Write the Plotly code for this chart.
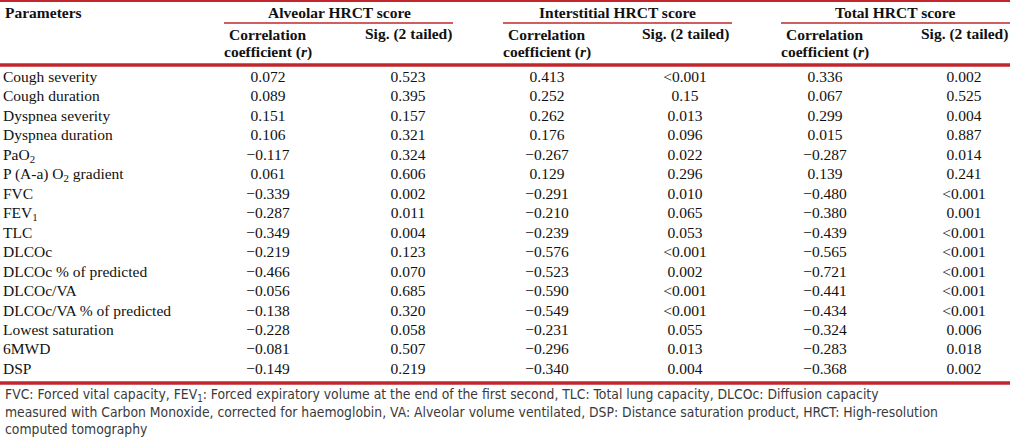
import plotly.graph_objects as go

# ---- data ----
parameters = ["Cough severity", "Cough duration", "Dyspnea severity", "Dyspnea duration",
              "PaO<sub>2</sub>", "P (A-a) O<sub>2</sub> gradient", "FVC", "FEV<sub>1</sub>", "TLC",
              "DLCOc", "DLCOc % of predicted", "DLCOc/VA", "DLCOc/VA % of predicted",
              "Lowest saturation", "6MWD", "DSP"]
alveolar_r = ["0.072", "0.089", "0.151", "0.106", "−0.117", "0.061", "−0.339", "−0.287", "−0.349",
              "−0.219", "−0.466", "−0.056", "−0.138", "−0.228", "−0.081", "−0.149"]
alveolar_sig = ["0.523", "0.395", "0.157", "0.321", "0.324", "0.606", "0.002", "0.011", "0.004",
                "0.123", "0.070", "0.685", "0.320", "0.058", "0.507", "0.219"]
interstitial_r = ["0.413", "0.252", "0.262", "0.176", "−0.267", "0.129", "−0.291", "−0.210", "−0.239",
                  "−0.576", "−0.523", "−0.590", "−0.549", "−0.231", "−0.296", "−0.340"]
interstitial_sig = ["<0.001", "0.15", "0.013", "0.096", "0.022", "0.296", "0.010", "0.065", "0.053",
                    "<0.001", "0.002", "<0.001", "<0.001", "0.055", "0.013", "0.004"]
total_r = ["0.336", "0.067", "0.299", "0.015", "−0.287", "0.139", "−0.480", "−0.380", "−0.439",
           "−0.565", "−0.721", "−0.441", "−0.434", "−0.324", "−0.283", "−0.368"]
total_sig = ["0.002", "0.525", "0.004", "0.887", "0.014", "0.241", "<0.001", "0.001", "<0.001",
             "<0.001", "<0.001", "<0.001", "<0.001", "0.006", "0.018", "0.002"]
group_titles = ["Alveolar HRCT score", "Interstitial HRCT score", "Total HRCT score"]
sub_titles_line1 = ["Correlation", "Sig. (2 tailed)"]
sub_titles_line2 = ["coefficient (<i>r</i>)", ""]
first_header = "Parameters"
footnote_lines = [
    "FVC: Forced vital capacity, FEV<sub>1</sub>: Forced expiratory volume at the end of the first second, TLC: Total lung capacity, DLCOc: Diffusion capacity",
    "measured with Carbon Monoxide, corrected for haemoglobin, VA: Alveolar volume ventilated, DSP: Distance saturation product, HRCT: High-resolution",
    "computed tomography",
]

# ---- layout constants (pixel coordinates) ----
W, H = 1010, 442
RED = "#C1272D"
SERIF = "Liberation Serif, Times New Roman, serif"
NARROW = "Liberation Sans Narrow, Arial Narrow, DejaVu Sans Condensed, sans-serif"
FS = 15.5
TXT = "#111111"
col_centers = [268, 408, 547, 685, 825, 964]
group_centers = [339, 617, 895]
group_spans = [(224, 453), (503, 732), (781, 1010)]
row0, row_step = 78.0, 19.47
label_x = 3


def esc(s):
    return s.replace("<0", "&lt;0")


columns = [alveolar_r, alveolar_sig, interstitial_r, interstitial_sig, total_r, total_sig]
row_y = [row0 + i * row_step for i in range(len(parameters))]

fig = go.Figure()

# row labels
fig.add_trace(go.Scatter(
    x=[label_x] * len(parameters), y=row_y, text=parameters, mode="text",
    textposition="middle right", textfont=dict(family=SERIF, size=FS, color=TXT),
    hoverinfo="skip", showlegend=False))

# value columns
for cx, col in zip(col_centers, columns):
    fig.add_trace(go.Scatter(
        x=[cx] * len(col), y=row_y, text=[esc(v) for v in col], mode="text",
        textposition="middle center", textfont=dict(family=SERIF, size=FS, color=TXT),
        hoverinfo="skip", showlegend=False))

hfont = dict(family=SERIF, size=FS, color=TXT)
annotations = []
annotations.append(dict(x=label_x, y=12, text="<b>" + first_header + "</b>", xanchor="left",
                        yanchor="middle", showarrow=False, font=hfont))
for gc, gt in zip(group_centers, group_titles):
    annotations.append(dict(x=gc, y=12, text="<b>" + gt + "</b>", xanchor="center",
                            yanchor="middle", showarrow=False, font=hfont))
for i, cx in enumerate(col_centers):
    annotations.append(dict(x=cx, y=34, text="<b>" + sub_titles_line1[i % 2] + "</b>",
                            xanchor="center", yanchor="middle", showarrow=False, font=hfont))
    if sub_titles_line2[i % 2]:
        annotations.append(dict(x=cx, y=52, text="<b>" + sub_titles_line2[i % 2] + "</b>",
                                xanchor="center", yanchor="middle", showarrow=False, font=hfont))
for k, line in enumerate(footnote_lines):
    annotations.append(dict(x=label_x, y=395 + k * 17, text=line, xanchor="left",
                            yanchor="middle", showarrow=False,
                            font=dict(family=NARROW, size=13.8, color="#3a3a3a")))

shapes = [
    dict(type="line", x0=0, x1=W, y0=1, y1=1, line=dict(color=RED, width=2)),
    dict(type="line", x0=0, x1=W, y0=65, y1=65, line=dict(color=RED, width=3.5)),
    dict(type="line", x0=0, x1=W, y0=383, y1=383, line=dict(color=RED, width=3.5)),
]
for a, b in group_spans:
    shapes.append(dict(type="line", x0=a, x1=b, y0=23, y1=23, line=dict(color=RED, width=1.3)))

fig.update_layout(
    width=W, height=H, margin=dict(l=0, r=0, t=0, b=0),
    paper_bgcolor="white", plot_bgcolor="white",
    xaxis=dict(range=[0, W], visible=False, fixedrange=True),
    yaxis=dict(range=[H, 0], visible=False, fixedrange=True),
    shapes=shapes, annotations=annotations, showlegend=False,
)

fig.write_html("out.html", config={"displayModeBar": False},
               post_script="document.body.style.margin='0';document.body.style.overflow='hidden';")
